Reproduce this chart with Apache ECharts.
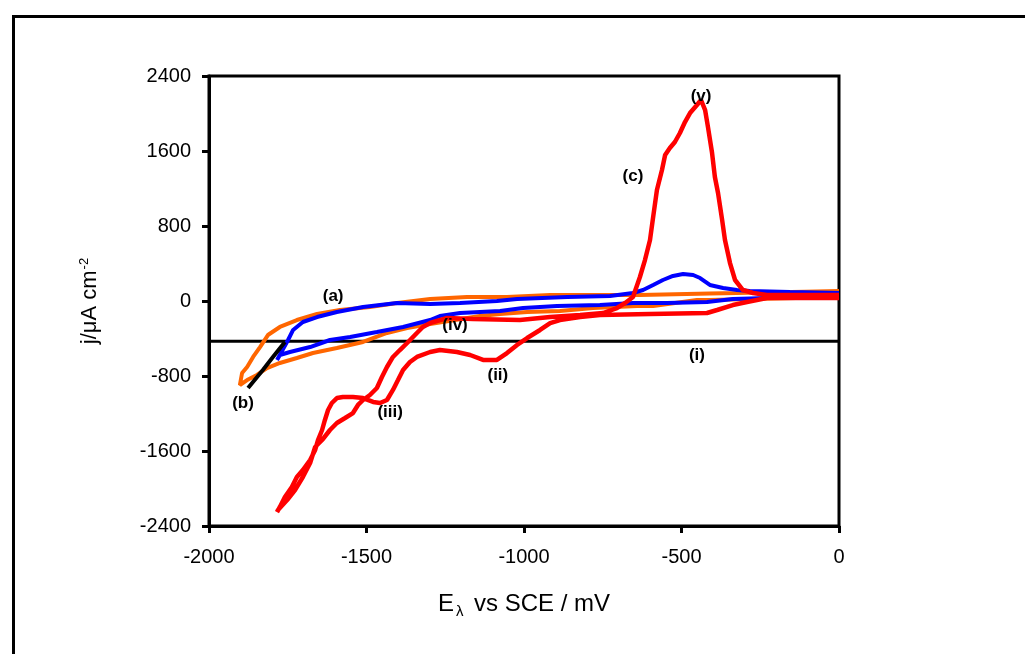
<!DOCTYPE html>
<html>
<head>
<meta charset="utf-8">
<script src="https://cdn.jsdelivr.net/npm/echarts@6/dist/echarts.min.js"></script>
<style>
html,body{margin:0;padding:0;background:#fff;}
#chart{width:1025px;height:654px;}
</style>
</head>
<body>
<div id="chart"></div>
<script>
// ---- data (E in mV vs SCE, j in µA cm^-2) ----
const xTicks = [-2000, -1500, -1000, -500, 0];
const yTicks = [-2400, -1600, -800, 0, 800, 1600, 2400];

const orangeE = [0, -410, -451, -590, -641, -781, -886, -990, -1076, -1140, -1298, -1371, -1435, -1511, -1594, -1670, -1721, -1775, -1816, -1848, -1879, -1902, -1895, -1879, -1860, -1838, -1813, -1775, -1721, -1657, -1584, -1489, -1403, -1298, -1181, -1054, -917, -759, -632, -410, -324, -108, 0];
const orangeJ = [43, 11, 11, -53, -53, -75, -107, -117, -139, -160, -245, -288, -341, -437, -501, -555, -608, -661, -715, -789, -843, -896, -768, -704, -597, -491, -363, -277, -203, -139, -96, -64, -21, 21, 43, 43, 64, 64, 64, 80, 85, 100, 107];

const blueE = [0, -229, -337, -419, -546, -654, -759, -895, -1003, -1076, -1203, -1267, -1298, -1384, -1467, -1552, -1616, -1679, -1743, -1775, -1784, -1749, -1733, -1702, -1657, -1594, -1511, -1403, -1298, -1203, -1086, -1022, -863, -727, -654, -622, -590, -559, -527, -495, -463, -441, -410, -368, -324, -283, -156, 0];
const blueJ = [43, 32, 21, -11, -21, -21, -43, -53, -75, -107, -128, -160, -203, -277, -331, -384, -416, -491, -544, -576, -629, -416, -309, -224, -171, -117, -64, -21, -32, -21, 0, 21, 43, 53, 85, 117, 171, 224, 267, 288, 277, 245, 171, 139, 117, 107, 96, 85];

const redCathodicE = [0, -83, -229, -292, -337, -387, -419, -600, -759, -822, -886, -917, -949, -990, -1022, -1054, -1086, -1130, -1171, -1213, -1267, -1298, -1340, -1362, -1384, -1400, -1416, -1435, -1457, -1479, -1511, -1543, -1575, -1594, -1610, -1622, -1632, -1641, -1654, -1663, -1679, -1702, -1721, -1737, -1759, -1775, -1784];
const redCathodicJ = [32, 32, 32, -11, -43, -96, -128, -139, -149, -171, -203, -235, -309, -395, -469, -555, -629, -629, -576, -544, -523, -544, -597, -651, -736, -843, -949, -1056, -1088, -1077, -1035, -1024, -1024, -1035, -1088, -1163, -1269, -1376, -1483, -1589, -1696, -1803, -1877, -1984, -2091, -2197, -2251];

const redAnodicE = [-1781, -1752, -1727, -1702, -1679, -1663, -1641, -1616, -1594, -1568, -1543, -1527, -1511, -1489, -1467, -1451, -1435, -1416, -1394, -1371, -1340, -1321, -1298, -1244, -1162, -1013, -917, -822, -749, -705, -679, -654, -632, -616, -600, -590, -578, -562, -552, -537, -521, -505, -489, -473, -451, -438, -425, -416, -403, -394, -384, -371, -362, -346, -330, -305, -273, -229, -124, 0];
const redAnodicJ = [-2229, -2123, -2016, -1877, -1728, -1557, -1483, -1376, -1301, -1248, -1195, -1109, -1056, -1003, -928, -811, -704, -597, -523, -448, -341, -277, -235, -181, -192, -203, -171, -149, -128, -75, -21, 43, 256, 437, 651, 896, 1184, 1397, 1557, 1632, 1696, 1792, 1909, 2005, 2091, 2144, 2037, 1856, 1579, 1323, 1152, 864, 651, 405, 224, 117, 85, 64, 64, 64];

const blackE = [-1876, -1829, -1797, -1759];
const blackJ = [-928, -736, -597, -437];

const refLineE = [-2000, 0];
const refLineJ = [-430, -430];

const labelText = ['(a)', '(b)', '(c)', '(v)', '(i)', '(ii)', '(iii)', '(iv)'];
const labelE = [-1606, -1892, -654, -438, -451, -1083, -1425, -1219];
const labelJ = [53, -1088, 1333, 2187, -576, -789, -1184, -256];

// ---- build ----
const zip = (xs, ys) => xs.map((x, i) => [x, ys[i]]);
const FONT = 'Liberation Sans, Arial, sans-serif';

const chart = echarts.init(document.getElementById('chart'), null, {renderer: 'canvas'});

const lineSeries = (name, data, color, width, z) => ({
  name, type: 'line', data, showSymbol: false, symbol: 'none', smooth: false,
  lineStyle: {color, width}, itemStyle: {color}, z, animation: false
});

const frame = {
  type: 'rect', left: 11, top: 14, z: -10,
  shape: {x: 0, y: 0, width: 1100, height: 700},
  style: {fill: 'none', stroke: '#000', lineWidth: 3}
};

const option = {
  animation: false,
  backgroundColor: '#ffffff',
  graphic: [frame],
  grid: {left: 209, right: 186, top: 76, bottom: 128, show: true, borderColor: '#000', borderWidth: 3, backgroundColor: 'transparent'},
  xAxis: {
    type: 'value', min: xTicks[0], max: xTicks[xTicks.length - 1], interval: 500,
    axisLine: {onZero: false, lineStyle: {color: '#000', width: 3}},
    axisTick: {show: true, inside: false, length: 7, lineStyle: {color: '#000', width: 3}},
    splitLine: {show: false},
    axisLabel: {color: '#000', fontSize: 20, fontFamily: FONT, margin: 21, formatter: v => String(v)},
    name: '{a|E}{s|λ}{a| vs SCE / mV}',
    nameLocation: 'middle', nameGap: 64,
    nameTextStyle: {
      rich: {
        a: {fontSize: 24, fontFamily: FONT, color: '#000'},
        s: {fontSize: 15, fontFamily: FONT, color: '#000', verticalAlign: 'bottom', padding: [14, 4, 0, 2]}
      }
    }
  },
  yAxis: {
    type: 'value', min: yTicks[0], max: yTicks[yTicks.length - 1], interval: 800,
    axisLine: {onZero: false, lineStyle: {color: '#000', width: 3}},
    axisTick: {show: true, inside: false, length: 7, lineStyle: {color: '#000', width: 3}},
    splitLine: {show: false},
    axisLabel: {color: '#000', fontSize: 20, fontFamily: FONT, margin: 18, formatter: v => String(v)},
    name: '{a|j/μA cm}{s|-2}',
    nameLocation: 'middle', nameGap: 108, nameRotate: 90,
    nameTextStyle: {
      rich: {
        a: {fontSize: 22, fontFamily: FONT, color: '#000'},
        s: {fontSize: 13, fontFamily: FONT, color: '#000', verticalAlign: 'top', padding: [0, 0, 10, 1]}
      }
    }
  },
  series: [
    lineSeries('ref', zip(refLineE, refLineJ), '#000000', 3, 1),
    lineSeries('(a)', zip(orangeE, orangeJ), '#FF6600', 4, 2),
    lineSeries('(b)', zip(blueE, blueJ), '#0000FF', 4, 3),
    lineSeries('(c)', zip(redCathodicE, redCathodicJ).concat(zip(redAnodicE, redAnodicJ)), '#FF0000', 4.5, 4),
    lineSeries('black', zip(blackE, blackJ), '#000000', 4, 5)
  ]
};
chart.setOption(option);

// curve annotations placed at their data coordinates through the axes
const labelGraphics = labelText.map((t, i) => {
  const p = chart.convertToPixel({gridIndex: 0}, [labelE[i], labelJ[i]]);
  return {
    type: 'text', x: p[0], y: p[1], z: 100,
    style: {text: t, fill: '#000', font: 'bold 17px ' + FONT, textAlign: 'center', textVerticalAlign: 'middle'}
  };
});
chart.setOption({graphic: [frame].concat(labelGraphics)});
</script>
</body>
</html>
